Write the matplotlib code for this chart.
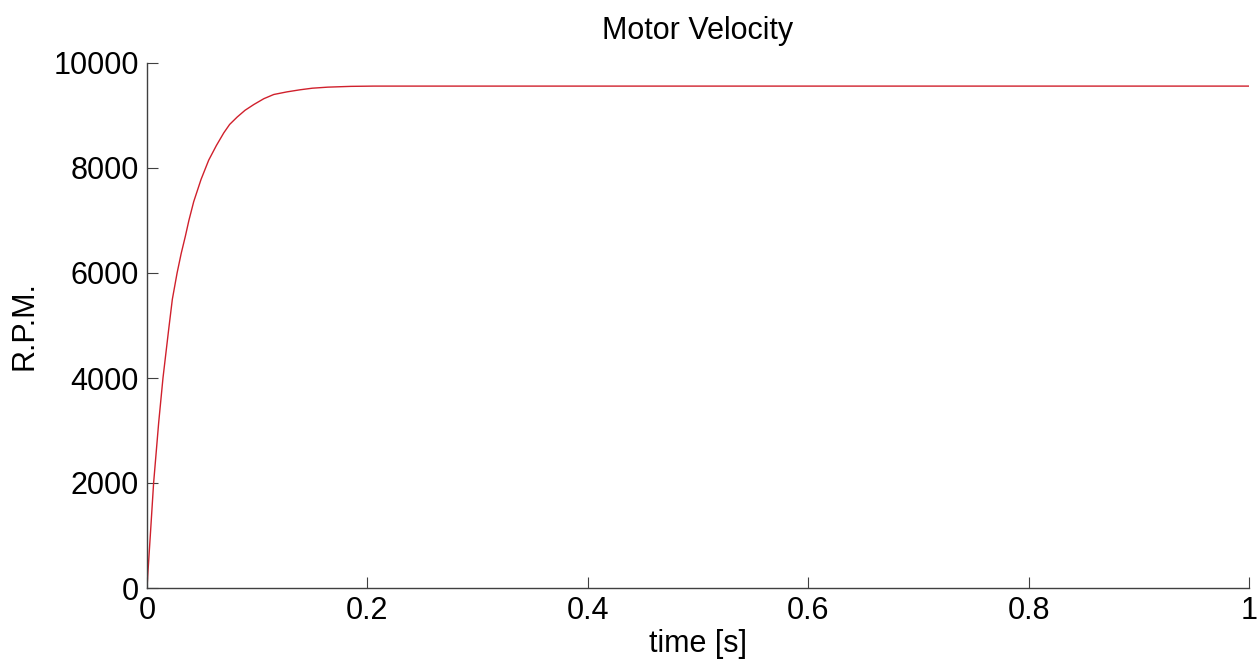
import numpy as np
import matplotlib.pyplot as plt

# values
time = [0, 0.001, 0.003, 0.006, 0.0106, 0.0145, 0.0197, 0.023, 0.0273, 0.031,
        0.0348, 0.038, 0.0424, 0.049, 0.056, 0.063, 0.0697, 0.075, 0.0818, 0.089,
        0.097, 0.106, 0.115, 0.127, 0.139, 0.15, 0.164, 0.185, 0.206,
        0.3, 0.5, 0.7, 1.0]
rpm = [0, 350, 1000, 2000, 3150, 4000, 4930, 5500, 6000, 6370,
       6700, 7000, 7360, 7780, 8150, 8430, 8670, 8830, 8970, 9100,
       9210, 9320, 9400, 9450, 9490, 9520, 9540, 9555, 9560,
       9560, 9560, 9560, 9560]
xticks = [0, 0.2, 0.4, 0.6, 0.8, 1]
xticklabels = ["0", "0.2", "0.4", "0.6", "0.8", "1"]
yticks = [0, 2000, 4000, 6000, 8000, 10000]

plt.rcParams['font.family'] = ['Liberation Sans', 'DejaVu Sans']

fig = plt.figure(figsize=(12.58, 6.6), dpi=100, facecolor='w')
ax = fig.add_axes([147/1258, 72/660, 1102/1258, 525/660])

ax.plot(time, rpm, color="#d0202c", linewidth=1.0)

ax.set_xlim(0, 1)
ax.set_ylim(0, 10000)
ax.set_xticks(xticks)
ax.set_xticklabels(xticklabels)
ax.set_yticks(yticks)

for s in ['top', 'right']:
    ax.spines[s].set_visible(False)
for s in ['left', 'bottom']:
    ax.spines[s].set_color('#404040')
    ax.spines[s].set_linewidth(1.0)

ax.tick_params(direction='in', length=8, width=0.8, color='#404040',
               labelsize=22, pad=6)

ax.set_title('Motor Velocity', fontsize=22, pad=17)
ax.set_xlabel('time [s]', fontsize=22, labelpad=2)
ax.set_ylabel('R.P.M.', fontsize=22, labelpad=10)

fig.savefig('out.png', dpi=100)
